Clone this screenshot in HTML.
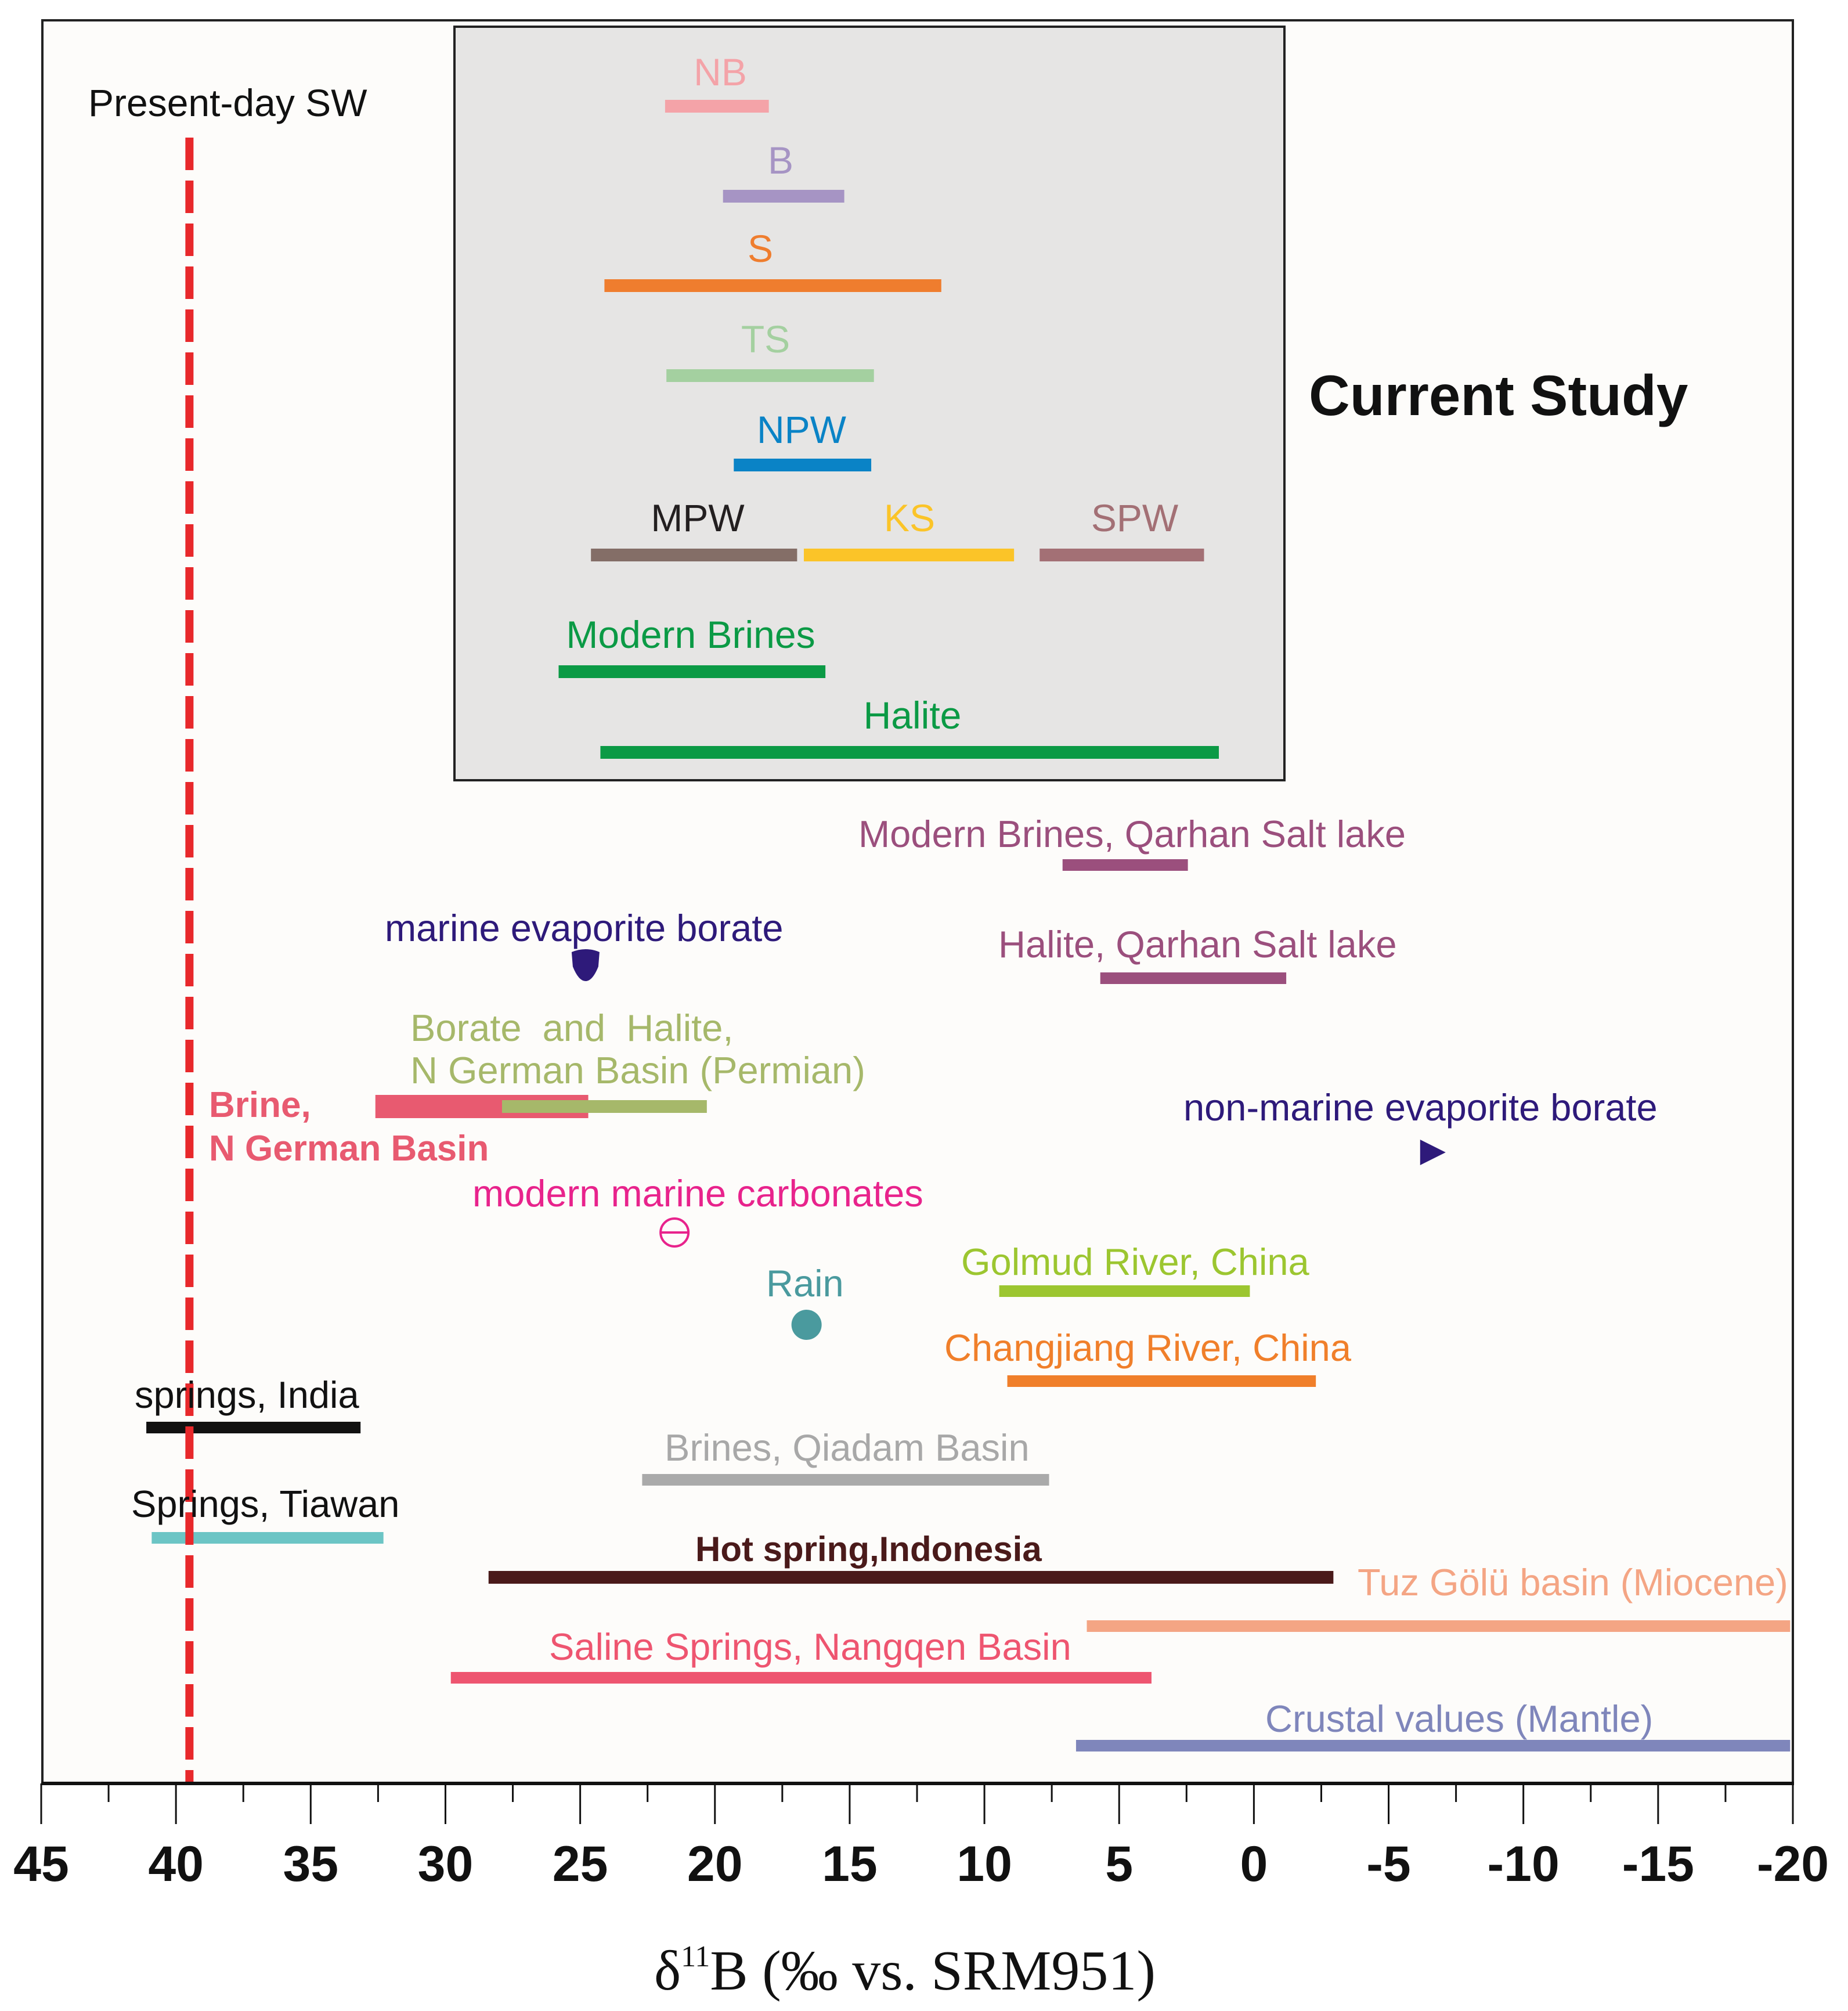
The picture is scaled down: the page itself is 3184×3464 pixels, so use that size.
<!DOCTYPE html>
<html><head><meta charset="utf-8"><style>
html,body{margin:0;padding:0;background:#fff;}
svg{display:block;font-family:"Liberation Sans",sans-serif;}
</style></head><body>
<svg id="chart" width="3184" height="3464" viewBox="0 0 3184 3464" xmlns="http://www.w3.org/2000/svg">
<rect x="0" y="0" width="3184" height="3464" fill="#ffffff"/>
<rect x="73" y="35" width="3016" height="3037" fill="#fdfcfa" stroke="#222" stroke-width="4"/>
<rect x="783" y="46" width="1430" height="1298" fill="#e6e5e4" stroke="#222" stroke-width="4"/>
<g id="marks"></g>
<g id="labels" font-size="65">
<text x="152" y="200" font-size="66" fill="#111">Present-day SW</text>
<text x="2255" y="715" font-size="98" font-weight="bold" fill="#111">Current Study</text>
<g font-size="66" text-anchor="middle">
<text x="1241" y="147" fill="#f4a3a8">NB</text>
<text x="1345" y="299" fill="#a694c4">B</text>
<text x="1310" y="451" fill="#ef7d2e">S</text>
<text x="1319" y="607" fill="#a4d0a0">TS</text>
<text x="1381" y="763" fill="#0a83c6">NPW</text>
<text x="1202" y="915" fill="#231f20">MPW</text>
<text x="1567" y="915" fill="#fbc428">KS</text>
<text x="1955" y="915" fill="#a37075">SPW</text>
<text x="1190" y="1116" fill="#0b9a45">Modern Brines</text>
<text x="1572" y="1255" fill="#0b9a45">Halite</text>
</g>
<text x="1479" y="1459" fill="#9b4f7d">Modern Brines, Qarhan Salt lake</text>
<text x="1720" y="1649" fill="#9b4f7d">Halite, Qarhan Salt lake</text>
<text x="663" y="1621" fill="#2e1a7a">marine evaporite borate</text>
<text x="707" y="1793" fill="#a6b86a">Borate &#160;and &#160;Halite,</text>
<text x="707" y="1866" fill="#a6b86a">N German Basin (Permian)</text>
<text x="360" y="1924" fill="#e85a70" font-weight="bold" font-size="62">Brine,</text>
<text x="360" y="1999" fill="#e85a70" font-weight="bold" font-size="62">N German Basin</text>
<text x="2039" y="1930" fill="#2e1a7a">non-marine evaporite borate</text>
<text x="814" y="2078" fill="#e8238c">modern marine carbonates</text>
<text x="1320" y="2233" fill="#4a9a9e">Rain</text>
<text x="1656" y="2196" fill="#9cc630">Golmud River, China</text>
<text x="1627" y="2344" fill="#f07f2a">Changjiang River, China</text>
<text x="232" y="2425" fill="#111">springs, India</text>
<text x="1145" y="2516" fill="#a8a8a8">Brines, Qiadam Basin</text>
<text x="226" y="2613" fill="#111">Springs, Tiawan</text>
<text x="1198" y="2689" fill="#4a1a1a" font-weight="bold" font-size="60">Hot spring,Indonesia</text>
<text x="2339" y="2748" fill="#f4a584">Tuz Gölü basin (Miocene)</text>
<text x="946" y="2859" fill="#ee5570">Saline Springs, Nangqen Basin</text>
<text x="2180" y="2983" fill="#7f86bb">Crustal values (Mantle)</text>
</g>
<g id="axis"></g>
<text x="1559" y="3427" text-anchor="middle" font-family="Liberation Serif, serif" font-size="98" fill="#111">δ<tspan dy="-40" font-size="52">11</tspan><tspan dy="40">B (‰ vs. SRM951)</tspan></text>
</svg>
<script>
// ranges (‰) for each bar
const barNames = ["nb","b","s","ts","npw","mpw","ks","spw","modern-brines","halite","qarhan-brines","qarhan-halite","borate-halite-ngb","brine-ngb","golmud","changjiang","springs-india","qiadam","springs-tiawan","hot-spring-indonesia","tuz-golu","saline-springs","crustal"];
const barLow  = [21.85,19.7,24.1,21.8,19.3,24.6,16.7,7.95,25.8,24.25,7.1,5.7,27.9,32.6,9.45,9.15,41.1,22.7,40.9,28.4,6.2,29.8,6.6];
const barHigh = [18.0,15.2,11.6,14.1,14.2,16.95,8.9,1.85,15.9,1.3,2.45,-1.2,20.3,24.7,0.15,-2.3,33.15,7.6,32.3,-2.95,-19.9,3.8,-19.9];
const pointNames = ["marine-evaporite-borate","non-marine-evaporite-borate","modern-marine-carbonates","rain"];
const pointValues = [24.8,-6.6,21.5,16.6];
const seawaterValue = [39.5];
const tickValues = [45,40,35,30,25,20,15,10,5,0,-5,-10,-15,-20];
const tickLabels = ["45","40","35","30","25","20","15","10","5","0","-5","-10","-15","-20"];

// layout (not data)
const barRowY = [183,338,492,647,801,956,956,956,1157,1296,1490,1685,1906,1906,2224,2379,2459,2549,2649,2717,2801,2890,3007];
const barColor = ["#f4a3a8","#a694c4","#ef7d2e","#a4d0a0","#0a83c6","#846e67","#fbc428","#a37075","#0b9a45","#0b9a45","#9b4f7d","#9b4f7d","#a6b86a","#e85a70","#9cc630","#f07f2a","#111","#aaaaaa","#6cc5c5","#4a1a1a","#f4a584","#ee5570","#7f86bb"];
const barThick = [22,22,22,22,22,22,22,22,22,22,20,20,22,40,20,20,20,20,20,22,20,20,20];
const drawOrder = [0,1,2,3,4,5,6,7,8,9,10,11,13,12,14,15,16,17,18,19,20,21,22];

const NS="http://www.w3.org/2000/svg";
const X0=71, X1=3089, V0=45, V1=-20;
function xScale(v){return X0+(V0-v)*(X1-X0)/(V0-V1);}
function mk(tag,attrs,parent){const e=document.createElementNS(NS,tag);for(const k in attrs)e.setAttribute(k,attrs[k]);parent.appendChild(e);return e;}
const marks=document.getElementById('marks');

drawOrder.forEach(i=>{
  const a=xScale(barLow[i]), b=xScale(barHigh[i]);
  const r=mk('rect',{x:Math.min(a,b),y:barRowY[i]-barThick[i]/2,width:Math.abs(b-a),height:barThick[i],fill:barColor[i]},marks);
  
  
});

// points
let px=xScale(pointValues[0]);
let p=mk('path',{d:`M${px-24},1640 Q${px},1630 ${px+24},1640 L${px+22},1665 Q${px+12},1690 ${px},1690 Q${px-12},1690 ${px-22},1665 Z`,fill:"#2e1a7a"},marks);


px=xScale(pointValues[1]);
p=mk('path',{d:`M${px-20},1963 L${px+24},1985 L${px-20},2007 Z`,fill:"#2e1a7a"},marks);


px=xScale(pointValues[2]);
p=mk('g',{},marks);


mk('circle',{cx:px,cy:2123,r:24,fill:"none",stroke:"#e8238c","stroke-width":4},p);
mk('line',{x1:px-24,y1:2123,x2:px+24,y2:2123,stroke:"#e8238c","stroke-width":4},p);
px=xScale(pointValues[3]);
p=mk('circle',{cx:px,cy:2282,r:26,fill:"#4a9a9e"},marks);



// seawater dashed line
const sw=mk('line',{x1:xScale(seawaterValue[0]),y1:237,x2:xScale(seawaterValue[0]),y2:3070,stroke:"#e8282b","stroke-width":14,"stroke-dasharray":"56 18"},marks);



// axis
const ax=document.getElementById('axis');
const al=mk('line',{x1:71,y1:3072,x2:3091,y2:3072,stroke:"#111","stroke-width":6},ax);


for(let v=45; v>=-20; v-=2.5){
  const major=Math.abs(v%5)<0.01;
  const t=mk('line',{x1:xScale(v),y1:3072,x2:xScale(v),y2:major?3142:3104,stroke:"#111","stroke-width":3},ax);
  
  
}
tickValues.forEach((v,i)=>{
  const t=mk('text',{x:xScale(v),y:3240,"text-anchor":"middle","font-size":86,"font-weight":"bold",fill:"#111"},ax);
  t.textContent=tickLabels[i];
  
  
});
</script>
</body></html>
